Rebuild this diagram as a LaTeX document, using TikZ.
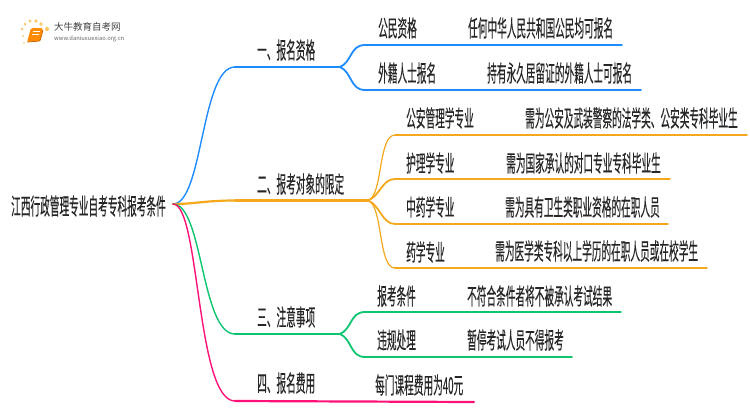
\documentclass[tikz,border=0pt]{standalone}
\usepackage{fontspec}
\setmainfont{Noto Sans CJK SC}[FakeStretch=0.42,FakeBold=0.2]
\newfontfamily\logofont{Noto Sans CJK SC}
\definecolor{lineblue}{HTML}{1E8CFF}
\definecolor{lineorange}{HTML}{F5A81C}
\definecolor{linegreen}{HTML}{0CC56F}
\definecolor{linepink}{HTML}{FF1177}
\definecolor{booksun}{HTML}{FBC86A}
\tikzset{
  txt/.style={anchor=west,inner sep=0pt,text=black!85,font=\fontsize{23}{23}\selectfont},
  stem/.style={line width=1.4pt,line cap=round},
  rail/.style={line width=2.2pt,line cap=round},
  twig/.style={line width=1.8pt,line cap=round},
}
\begin{document}
\begin{tikzpicture}[x=1pt,y=-1pt]
  \useasboundingbox (0,0) rectangle (750,410);
  % logo
  \foreach \a/\b/\r in {23/36/1,22/29/1.3,25/24/1.5,30/21/1.6,36/21/1.8,41/24/1.9,47/29/2.1,24/43/.8}
    \fill[booksun] (\a,\b) circle (\r);
  \fill[orange!90!yellow,rounded corners=1.5pt] (31,28)--(43,28)--(40,41)--(27,42)--cycle;
  \draw[orange!80!black,line width=.8pt,rounded corners=1pt] (27,42)--(40,41)--(43,30);
  \draw[white,line width=.6pt] (33,31)--(40,31) (32,34)--(39,34);
  \node[anchor=west,inner sep=0pt,text=black!75,font=\logofont\fontsize{9.5}{10}\selectfont] (brand) at (54,27) {大牛教育自考网};
  \node[anchor=west,inner sep=0pt,text=black!60,font=\logofont\fontsize{5.8}{6}\selectfont] (site) at (54,39) {www.daniuxuexiao.org.cn};
  % root
  \node[txt] (root) at (11,206) {江西行政管理专业自考专科报考条件};
  \coordinate (o) at (173,204);
  % first level
  \coordinate (b1) at (235,67); \coordinate (s1) at (340,67);
  \coordinate (b2) at (235,200.5); \coordinate (s2) at (368,200.5);
  \coordinate (b3) at (235,334); \coordinate (s3) at (340,334);
  \coordinate (b4) at (235,401); \coordinate (e4) at (474,402);
  \draw[stem,lineblue] (o) .. controls (203,204) and (201,67) .. (b1);
  \draw[rail,lineblue] (b1)--(s1);
  \draw[rail,lineorange] (o) .. controls (195,204) and (205,200.5) .. (b2);
  \draw[rail,lineorange] (b2)--(s2);
  \draw[stem,linegreen] (o) .. controls (203,204) and (201,334) .. (b3);
  \draw[rail,linegreen] (b3)--(s3);
  \draw[stem,linepink] (o) .. controls (200,204) and (196,401) .. (b4);
  \draw[rail,linepink] (b4)--(e4);
  \node[txt] (t1) at (257,50) {一、报名资格};
  \node[txt] (t2) at (257,184) {二、报考对象的限定};
  \node[txt] (t3) at (257,317) {三、注意事项};
  \node[txt] (t4) at (257,383) {四、报名费用};
  % second level, blue
  \coordinate (a1) at (365,45); \coordinate (a1e) at (622,45);
  \coordinate (a2) at (365,90); \coordinate (a2e) at (641,90);
  \draw[twig,lineblue] (s1) .. controls (352,62) and (350,45) .. (a1)--(a1e);
  \draw[twig,lineblue] (s1) .. controls (352,72) and (350,90) .. (a2)--(a2e);
  \node[txt] (n1) at (378,28) {公民资格};
  \node[txt] (d1) at (468,28) {任何中华人民共和国公民均可报名};
  \node[txt] (n2) at (378,73) {外籍人士报名};
  \node[txt] (d2) at (487,73) {持有永久居留证的外籍人士可报名};
  % second level, orange
  \coordinate (c1) at (395,135); \coordinate (c1e) at (747,135);
  \coordinate (c2) at (395,179); \coordinate (c2e) at (670,179);
  \coordinate (c3) at (395,224); \coordinate (c3e) at (668,224);
  \coordinate (c4) at (395,268); \coordinate (c4e) at (707,268);
  \draw[line width=1.2pt,lineorange,line cap=round] (s2) .. controls (383,196) and (378,135) .. (c1);
  \draw[twig,lineorange] (c1)--(c1e);
  \draw[twig,lineorange] (s2) .. controls (380,196) and (382,179) .. (c2)--(c2e);
  \draw[twig,lineorange] (s2) .. controls (380,205) and (382,224) .. (c3)--(c3e);
  \draw[line width=1.2pt,lineorange,line cap=round] (s2) .. controls (383,205) and (378,268) .. (c4);
  \draw[twig,lineorange] (c4)--(c4e);
  \node[txt] (n3) at (406,118) {公安管理学专业};
  \node[txt] (d3) at (525,118) {需为公安及武装警察的法学类、公安类专科毕业生};
  \node[txt] (n4) at (406,163) {护理学专业};
  \node[txt] (d4) at (506,163) {需为国家承认的对口专业专科毕业生};
  \node[txt] (n5) at (406,207) {中药学专业};
  \node[txt] (d5) at (505,207) {需为具有卫生类职业资格的在职人员};
  \node[txt] (n6) at (406,252) {药学专业};
  \node[txt] (d6) at (495,251) {需为医学类专科以上学历的在职人员或在校学生};
  % second level, green
  \coordinate (g1) at (365,312); \coordinate (g1e) at (621,312);
  \coordinate (g2) at (365,357); \coordinate (g2e) at (572,357);
  \draw[twig,linegreen] (s3) .. controls (352,329) and (350,312) .. (g1)--(g1e);
  \draw[twig,linegreen] (s3) .. controls (352,339) and (350,357) .. (g2)--(g2e);
  \node[txt] (n7) at (377,296) {报考条件};
  \node[txt] (d7) at (467,296) {不符合条件者将不被承认考试结果};
  \node[txt] (n8) at (377,340) {违规处理};
  \node[txt] (d8) at (467,340) {暂停考试人员不得报考};
  \node[txt] (n9) at (375,385) {每门课程费用为40元};
\end{tikzpicture}
\end{document}
